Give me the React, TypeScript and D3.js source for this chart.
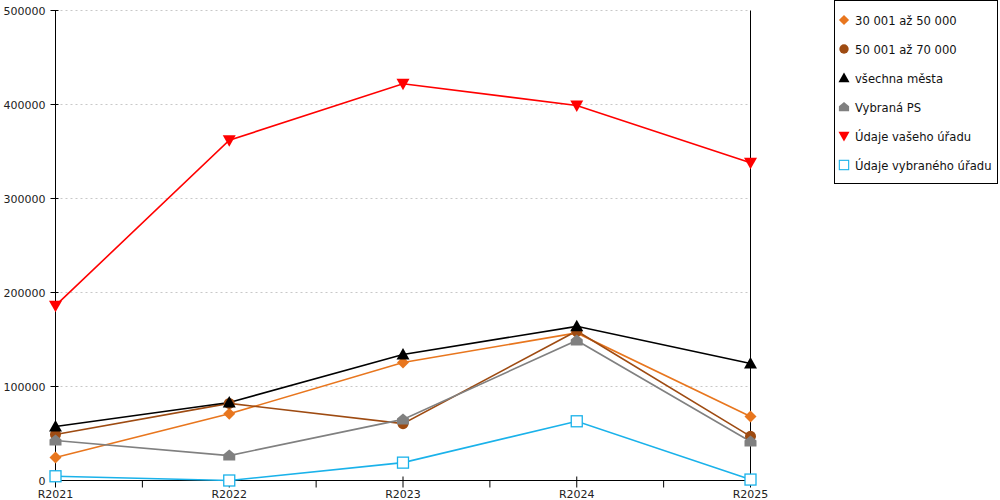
import React from 'react';
import * as d3 from 'd3';

const categories = ['R2021', 'R2022', 'R2023', 'R2024', 'R2025'];
const yTicks = [0, 100000, 200000, 300000, 400000, 500000];

const seriesNames = [
  '30 001 až 50 000',
  '50 001 až 70 000',
  'všechna města',
  'Vybraná PS',
  'Údaje vašeho úřadu',
  'Údaje vybraného úřadu',
];
const seriesColors = ['#e8761e', '#9e4b12', '#000000', '#808080', '#ff0000', '#1ab2ea'];
const seriesShapes = ['diamond', 'circle', 'triangle', 'house', 'down', 'square'];

const valsA = [24500, 71000, 125500, 157000, 68000];
const valsB = [49000, 82000, 60500, 159000, 47000];
const valsAll = [57500, 83000, 134000, 164000, 124500];
const valsPS = [42500, 26500, 65000, 149000, 41500];
const valsOffice = [186000, 362000, 422000, 399000, 338000];
const valsSelected = [4500, 0, 19000, 63000, 1000];
const seriesValues = [valsA, valsB, valsAll, valsPS, valsOffice, valsSelected];

const font = 'DejaVu Sans, sans-serif';

// marker drawing, centred on 0,0
function Marker({ shape, color }: { shape: string; color: string }) {
  switch (shape) {
    case 'diamond':
      return <path d="M0,-6L6,0L0,6L-6,0Z" fill={color} />;
    case 'circle':
      return <circle r={5.5} fill={color} />;
    case 'triangle':
      return <path d="M0,-6.5L6.5,5L-6.5,5Z" fill={color} />;
    case 'house':
      return <path d="M0,-6L6,-1L6,5L-6,5L-6,-1Z" fill={color} />;
    case 'down':
      return <path d="M-6.5,-5L6.5,-5L0,6.5Z" fill={color} />;
    case 'square':
      return <rect x={-5.5} y={-5.5} width={11} height={11} fill="white" stroke={color} strokeWidth={1.3} />;
    default:
      return null;
  }
}

export default function App() {
  const width = 1000;
  const height = 500;
  const left = 55.5;
  const right = 750.5;
  const top = 10.5;
  const bottom = 480.5;

  const x = d3.scalePoint<string>().domain(categories).range([left, right]);
  const y = d3.scaleLinear().domain([0, 500000]).range([bottom, top]);
  const step = x.step();

  const line = d3
    .line<number>()
    .x((_, i) => x(categories[i]) as number)
    .y((d) => y(d));

  const minorTicks = categories.slice(0, -1).map((c) => (x(c) as number) + step / 2);

  return (
    <svg
      width={width}
      height={height}
      style={{ position: 'absolute', left: 0, top: 0, background: 'white' }}
      fontFamily={font}
    >
      {/* grid */}
      {yTicks.map((t) => (
        <line
          key={'g' + t}
          x1={left}
          x2={right}
          y1={y(t)}
          y2={y(t)}
          stroke="#c8c8c8"
          strokeDasharray="2,3"
        />
      ))}
      {/* axes */}
      <line x1={left} x2={left} y1={top} y2={bottom} stroke="black" />
      <line x1={right} x2={right} y1={top} y2={bottom} stroke="black" />
      {yTicks.map((t) => (
        <g key={'y' + t}>
          <line x1={left - 5} x2={left + 3} y1={y(t)} y2={y(t)} stroke="black" />
          <text x={left - 10} y={y(t) + 4} textAnchor="end" fontSize={11} fill="#222">
            {t}
          </text>
        </g>
      ))}
      <line x1={left} x2={right} y1={bottom} y2={bottom} stroke="black" />
      {categories.map((c) => (
        <g key={c}>
          <line x1={x(c)} x2={x(c)} y1={bottom - 4} y2={bottom + 7} stroke="black" />
          <text x={x(c)} y={bottom + 17} textAnchor="middle" fontSize={11} fill="#222">
            {c}
          </text>
        </g>
      ))}
      {minorTicks.map((m, i) => (
        <line key={'m' + i} x1={m} x2={m} y1={bottom} y2={bottom + 7} stroke="black" />
      ))}
      {/* series */}
      {seriesValues.map((vals, si) => (
        <path
          key={'s' + si}
          d={line(vals) || ''}
          fill="none"
          stroke={seriesColors[si]}
          strokeWidth={1.6}
        />
      ))}
      {seriesValues.map((vals, si) => (
        <g key={'p' + si}>
          {vals.map((v, i) => (
            <g key={i} transform={`translate(${x(categories[i])},${y(v)})`}>
              <Marker shape={seriesShapes[si]} color={seriesColors[si]} />
            </g>
          ))}
        </g>
      ))}
      {/* legend */}
      <rect x={834.5} y={0.5} width={163} height={183} fill="white" stroke="black" />
      {seriesNames.map((name, i) => (
        <g key={name} transform={`translate(0,${20 + i * 29})`}>
          <g transform="translate(844,0) scale(0.85)">
            <Marker shape={seriesShapes[i]} color={seriesColors[i]} />
          </g>
          <text x={855} y={4.5} fontSize={11.6} fill="#111">
            {name}
          </text>
        </g>
      ))}
    </svg>
  );
}
